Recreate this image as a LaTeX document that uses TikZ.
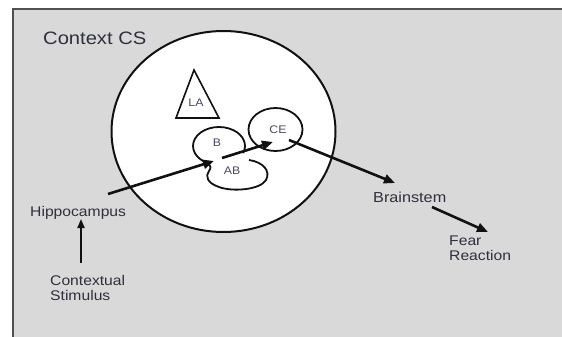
\documentclass[tikz,border=0pt]{standalone}
\usepackage{fontspec}
\setmainfont{Liberation Sans}[FakeStretch=1.12]
\usetikzlibrary{arrows.meta,shapes.geometric}

\definecolor{panel}{HTML}{D9D9D9}
\definecolor{frameline}{HTML}{505050}
\definecolor{ink}{HTML}{111111}
\definecolor{labeltext}{HTML}{30303C}
\definecolor{smalltext}{HTML}{4A4A60}

\begin{document}
\begin{tikzpicture}[x=1pt,y=-1pt,
  outline/.style={draw=ink, line width=1.8pt},
  flow/.style={draw=ink, line width=2.6pt, -{Triangle[length=11pt,width=9pt]}},
  thinflow/.style={draw=ink, line width=1.9pt, -{Triangle[length=9pt,width=7pt]}},
  textlbl/.style={inner sep=0pt, text=labeltext, align=left,
                  font=\fontsize{14}{15.5}\selectfont},
  regiontag/.style={inner sep=0pt, text=smalltext, font=\fontsize{11}{11}\selectfont}]

% page and panel
\useasboundingbox (0,0) rectangle (562,337);
\clip (0,0) rectangle (562,337);
\fill[white] (0,0) rectangle (562,337);
\draw[draw=frameline, line width=2pt, fill=panel] (13,9) rectangle (585,360);

% amygdala outline
\node[ellipse, outline, line width=2pt, fill=white, inner sep=0pt,
      minimum width=224pt, minimum height=201pt] (amyg) at (223.5,131.5) {};

% lateral nucleus
\draw[outline, line width=1.6pt] (194,70) -- (219,118) -- (176,118) -- cycle;

% basal nucleus (open at the bottom)
\draw[outline] (219,146) ++(236:26pt and 19pt)
  arc[start angle=236, end angle=-22, x radius=26pt, y radius=19pt];

% accessory basal nucleus
\draw[outline] (249,160) .. controls (263,162) and (271,171) .. (266,180)
  .. controls (260,190) and (232,192) .. (219,187)
  .. controls (207,183) and (205,176) .. (209,171)
  .. controls (211,168) and (211,166) .. (209,164);

% central nucleus
\node[ellipse, outline, inner sep=0pt, minimum width=54pt, minimum height=43pt]
  (CEring) at (275.5,129.5) {};

% labels
\node[anchor=base west, inner sep=0pt, text=labeltext,
      font=\fontsize{18}{18}\selectfont] (ctx) at (43,45) {Context CS};
\node[textlbl, anchor=base west] (hippo) at (30,216.7) {Hippocampus};
\node[textlbl, anchor=base west] (stim1) at (50,285) {Contextual};
\node[textlbl, anchor=base west] (stim2) at (50,300.7) {Stimulus};
\node[textlbl, anchor=base west, font=\fontsize{14.5}{15.5}\selectfont] (brain) at (373,202) {Brainstem};
\node[textlbl, anchor=base west] (fear1) at (449,245) {Fear};
\node[textlbl, anchor=base west] (fear2) at (449,260) {Reaction};

\node[regiontag] (LA) at (196,103) {LA};
\node[regiontag] (B) at (217,143) {B};
\node[regiontag] (AB) at (232,171) {AB};
\node[regiontag] (CE) at (278,130) {CE};

% connector end points
\coordinate (stimtop) at (81,263);
\coordinate (hipbottom) at (81,219);
\coordinate (hipout) at (108,194);
\coordinate (abin) at (214,161);
\coordinate (about) at (222,158);
\coordinate (cein) at (273,142);
\coordinate (ceout) at (289,140);
\coordinate (brin) at (395,183);
\coordinate (brout) at (432,207);
\coordinate (fearin) at (488,232);

% pathway
\draw[thinflow] (stimtop) -- (hipbottom);
\draw[flow] (hipout) -- (abin);
\draw[flow] (about) -- (cein);
\draw[flow] (ceout) -- (brin);
\draw[flow] (brout) -- (fearin);
\end{tikzpicture}
\end{document}
